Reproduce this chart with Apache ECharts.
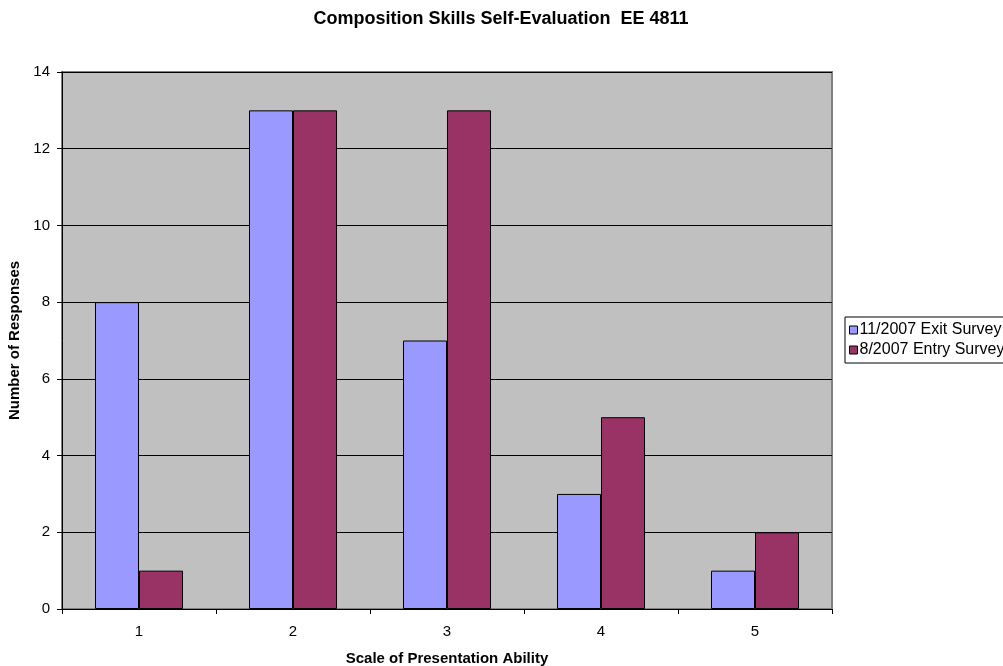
<!DOCTYPE html>
<html>
<head>
<meta charset="utf-8">
<script src="https://cdn.jsdelivr.net/npm/echarts@6/dist/echarts.min.js"></script>
<style>
  html, body { margin: 0; padding: 0; background: #ffffff; }
  #chart { width: 1003px; height: 666px; }
</style>
</head>
<body>
<div id="chart"></div>
<script>
// Scale levels on the x axis
const categories = ['1', '2', '3', '4', '5'];
// Response counts per survey
const exitSurvey = [8, 13, 7, 3, 1];
const entrySurvey = [1, 13, 13, 5, 2];
const seriesNames = ['11/2007 Exit Survey', '8/2007 Entry Survey'];

const font = 'Liberation Sans, Arial, sans-serif';
const chart = echarts.init(document.getElementById('chart'));

chart.setOption({
  animation: false,
  backgroundColor: '#ffffff',
  title: {
    text: 'Composition Skills Self-Evaluation  EE 4811',
    left: 501,
    textAlign: 'center',
    top: 10,
    padding: 0,
    textStyle: { fontFamily: font, fontSize: 18, fontWeight: 'bold', color: '#000' }
  },
  legend: {
    orient: 'vertical',
    left: 845,
    top: 317,
    data: seriesNames,
    icon: 'rect',
    itemWidth: 8,
    itemHeight: 8,
    itemGap: 4,
    padding: [5, 8, 5, 4],
    borderColor: '#000',
    borderWidth: 1,
    textStyle: { fontFamily: font, fontSize: 16, color: '#000', padding: [0, 0, 0, -3] },
    itemStyle: { borderColor: '#000', borderWidth: 1 }
  },
  grid: {
    left: 62,
    top: 72,
    width: 770,
    height: 537,
    outerBoundsMode: 'none',
    containLabel: false,
    show: true,
    backgroundColor: '#C0C0C0',
    borderColor: '#808080',
    borderWidth: 2
  },
  xAxis: {
    type: 'category',
    data: categories,
    name: 'Scale of Presentation Ability',
    nameLocation: 'middle',
    nameGap: 42,
    nameTextStyle: { fontFamily: font, fontSize: 15, fontWeight: 'bold', color: '#000' },
    axisLine: { lineStyle: { color: '#000', width: 1 } },
    axisTick: { show: true, alignWithLabel: false, length: 5, lineStyle: { color: '#000' } },
    axisLabel: { fontFamily: font, fontSize: 15, color: '#000', margin: 15 }
  },
  yAxis: {
    type: 'value',
    min: 0,
    max: 14,
    interval: 2,
    name: 'Number of Responses',
    nameLocation: 'middle',
    nameGap: 38,
    nameTextStyle: { fontFamily: font, fontSize: 15, fontWeight: 'bold', color: '#000' },
    axisLine: { show: true, lineStyle: { color: '#000', width: 1 } },
    axisTick: { show: true, length: 5, lineStyle: { color: '#000' } },
    axisLabel: { fontFamily: font, fontSize: 15, color: '#000', margin: 12 },
    splitLine: { show: true, lineStyle: { color: '#000', width: 1 } }
  },
  series: [
    {
      name: seriesNames[0],
      type: 'bar',
      data: exitSurvey,
      barWidth: 44,
      barGap: '0%',
      itemStyle: { color: '#9999FF', borderColor: '#000', borderWidth: 1 }
    },
    {
      name: seriesNames[1],
      type: 'bar',
      data: entrySurvey,
      barWidth: 44,
      barGap: '0%',
      itemStyle: { color: '#993366', borderColor: '#000', borderWidth: 1 }
    }
  ]
});
</script>
</body>
</html>
